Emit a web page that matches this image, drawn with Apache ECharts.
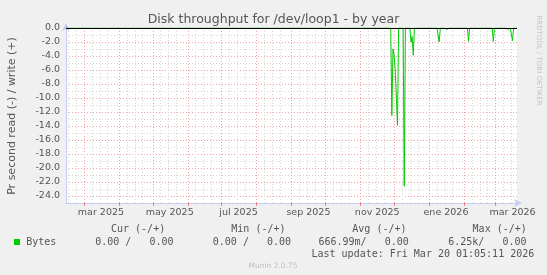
<!DOCTYPE html>
<html><head><meta charset="utf-8">
<script src="https://cdn.jsdelivr.net/npm/echarts@6/dist/echarts.min.js"></script>
<style>html,body{margin:0;padding:0;background:#f0f0f0}#c{width:547px;height:275px}</style>
</head><body><div id="c"></div>
<script>
// ---- data ----
const startDate = '2025-02-13';
const dayCount = 401; // one category per day, Feb 13 2025 .. Mar 20 2026
const monthNames = ['ene','feb','mar','abr','may','jun','jul','ago','sep','oct','nov','dic'];
// days with non-zero read throughput (all other days read 0.0)
const readDates  = ['2025-11-29','2025-11-30','2025-12-01','2025-12-02','2025-12-03','2025-12-04',
                    '2025-12-10','2025-12-16','2025-12-17','2025-12-18','2026-01-10','2026-01-17',
                    '2026-02-05','2026-02-11','2026-02-27','2026-03-07','2026-03-12','2026-03-16'];
const readValues = [-12.5,-3.0,-3.9,-6.0,-6.2,-13.9,
                    -22.6,-2.0,-1.2,-3.9,-2.0,-0.2,
                    -1.9,-0.2,-1.9,-0.2,-0.2,-1.8];
const yTickLabels = [0,-2,-4,-6,-8,-10,-12,-14,-16,-18,-20,-22,-24];
const legendHeaders = ['Cur (-/+)','Min (-/+)','Avg (-/+)','Max (-/+)'];
const legendValues  = ['0.00 /   0.00','0.00 /   0.00','666.99m/   0.00','6.25k/   0.00'];

// ---- build ----
const categories = [];
const d0 = new Date(startDate + 'T00:00:00Z');
for (let i = 0; i < dayCount; i++) {
  categories.push(new Date(d0.getTime() + i * 86400000).toISOString().slice(0, 10));
}
const readMap = {};
readDates.forEach((d, i) => { readMap[d] = readValues[i]; });
const readSeries = categories.map(c => (c in readMap ? readMap[c] : 0));
const dayOf = c => +c.slice(8, 10);
const monOf = c => +c.slice(5, 7);

const FONT = 'DejaVu Sans';
const axisCol = '#c6cbf2';

const graphic = [
  {type:'text', x:273.5, y:19.5, style:{text:'Disk throughput for /dev/loop1 - by year', font:'12.5px "DejaVu Sans"', fill:'#555', align:'center', verticalAlign:'middle'}},
  {type:'text', x:12, y:116, rotation:Math.PI/2, style:{text:'Pr second read (-) / write (+)', font:'11px "DejaVu Sans"', fill:'#555', align:'center', verticalAlign:'middle'}},
  {type:'text', x:538.5, y:60.5, rotation:-Math.PI/2, style:{text:'RRDTOOL / TOBI OETIKER', font:'7px "DejaVu Sans"', fill:'#c4c4c4', align:'center', verticalAlign:'middle'}},
  {type:'rect', shape:{x:14, y:239, width:6, height:6}, style:{fill:'#00cc00'}},
  {type:'text', x:26.2, y:242, style:{text:'Bytes', font:'10px "DejaVu Sans Mono"', fill:'#555', align:'left', verticalAlign:'middle'}},
  {type:'text', x:311.5, y:254.5, style:{text:'Last update: Fri Mar 20 01:05:11 2026', font:'10px "DejaVu Sans Mono"', fill:'#555', align:'left', verticalAlign:'middle'}},
  {type:'text', x:273, y:266.5, style:{text:'Munin 2.0.75', font:'7.5px "DejaVu Sans"', fill:'#c0c0c0', align:'center', verticalAlign:'middle'}}
];
const headerX = [111, 231.3, 352.3, 472.6];
const valueX = [95.2, 212.8, 318.4, 448.2];
legendHeaders.forEach((t, i) => graphic.push({type:'text', x:headerX[i], y:229.5, style:{text:t, font:'10px "DejaVu Sans Mono"', fill:'#555', align:'left', verticalAlign:'middle'}}));
legendValues.forEach((t, i) => graphic.push({type:'text', x:valueX[i], y:242, style:{text:t, font:'10px "DejaVu Sans Mono"', fill:'#555', align:'left', verticalAlign:'middle'}}));

const chart = echarts.init(document.getElementById('c'), null, {renderer:'canvas'});
chart.setOption({
  animation:false,
  backgroundColor:'#f0f0f0',
  grid:{left:66, top:28, width:451, height:175, show:true, backgroundColor:'#ffffff', borderWidth:0},
  xAxis:[
    {type:'category', data:categories, boundaryGap:false,
     axisLine:{show:false}, axisTick:{show:false}, axisLabel:{show:false},
     splitLine:{show:true, interval:(i, v) => [8,15,22].includes(dayOf(v)), lineStyle:{color:'#d6d6d6', type:[1,2], width:1}}},
    {type:'category', data:categories, boundaryGap:false, position:'bottom',
     axisLine:{show:true, lineStyle:{color:axisCol, width:1}, symbol:['none','arrow'], symbolSize:[6,8], symbolOffset:[0,5]},
     axisTick:{show:true, interval:(i, v) => dayOf(v) === 1, length:3, lineStyle:{color:'#f08080'}},
     axisLabel:{interval:(i, v) => dayOf(v) === 16 && monOf(v) % 2 === 1,
                formatter:v => monthNames[monOf(v) - 1] + ' ' + v.slice(0, 4),
                color:'#555', fontSize:9.5, fontFamily:FONT, margin:5},
     splitLine:{show:true, interval:(i, v) => dayOf(v) === 1, lineStyle:{color:'#f2a0a0', type:[1,2], width:1}}}
  ],
  yAxis:{type:'value', min:-25, max:0, interval:1,
    axisLine:{show:true, lineStyle:{color:axisCol, width:1}, symbol:['none','arrow'], symbolSize:[6,8], symbolOffset:[0,5]},
    axisTick:{show:false},
    axisLabel:{formatter:v => (yTickLabels.indexOf(Math.round(v)) >= 0 ? (Math.round(v) === 0 ? '0.0' : v.toFixed(1)) : ''),
               color:'#555', fontSize:9.5, fontFamily:FONT, margin:6},
    splitLine:{show:true, lineStyle:{color:['#d6d6d6','#f2a0a0'], type:[1,2], width:1}}},
  series:[{
    type:'line', name:'Bytes', xAxisIndex:1, data:readSeries, showSymbol:false, symbol:'none',
    lineStyle:{color:'#00cc00', width:1}, itemStyle:{color:'#00cc00'},
    markLine:{silent:true, symbol:'none', label:{show:false}, lineStyle:{color:'#000', width:1, type:'solid'}, data:[{yAxis:0}]}
  }],
  graphic:graphic
});
</script>
</body></html>
